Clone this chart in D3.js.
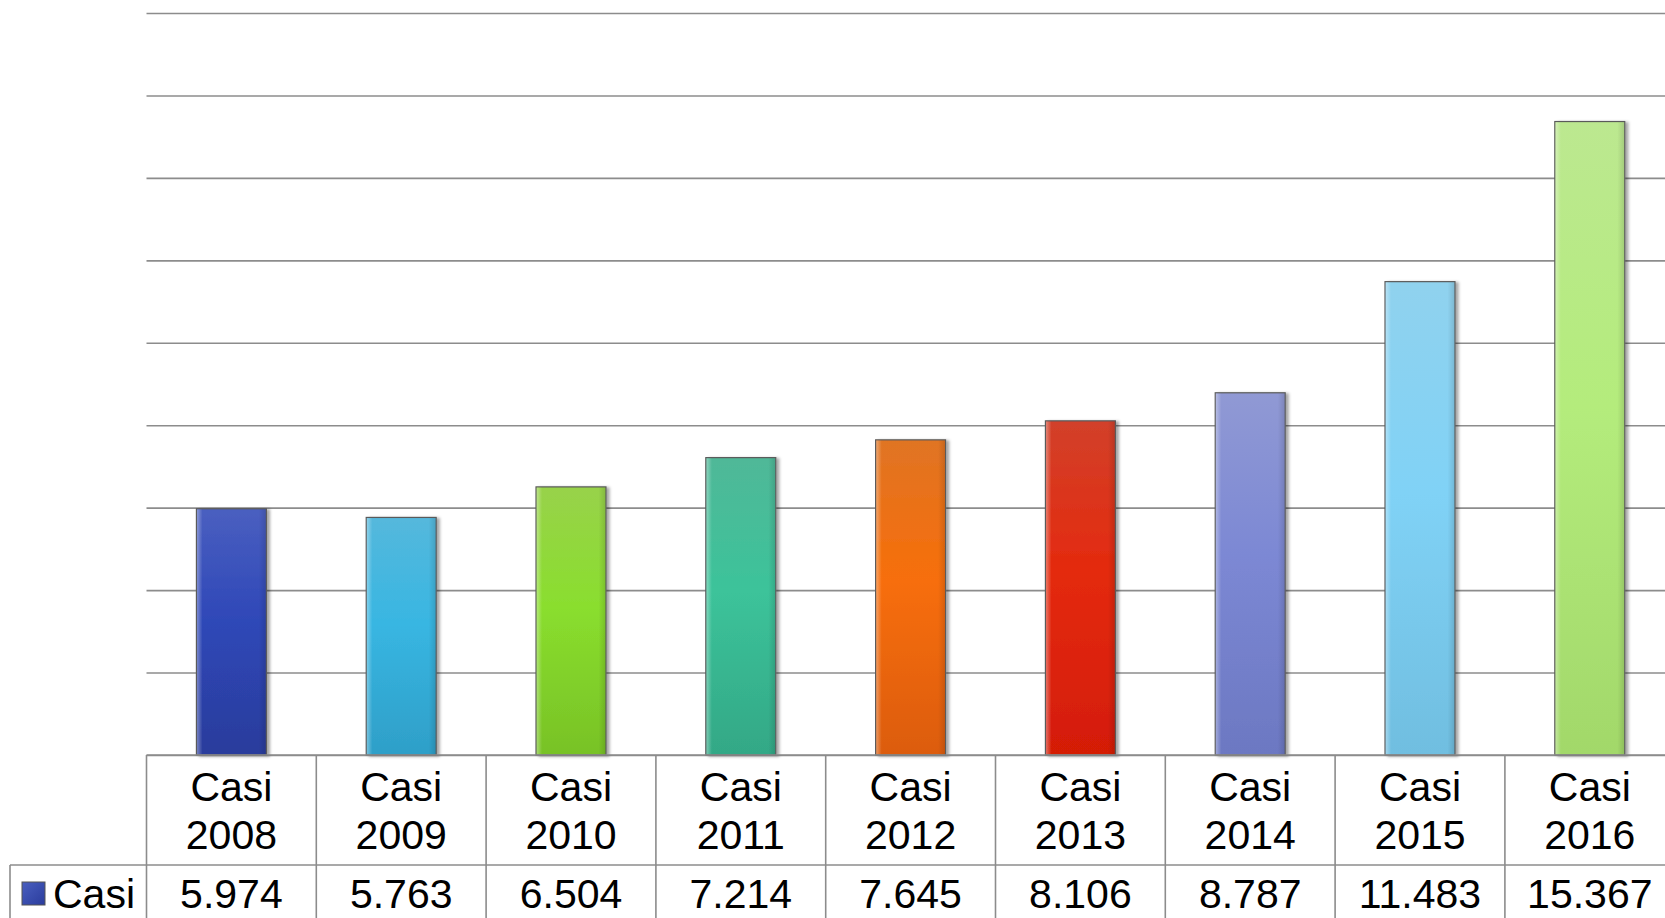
<!DOCTYPE html>
<html>
<head>
<meta charset="utf-8">
<script src="https://cdn.jsdelivr.net/npm/d3@7"></script>
<style>
  html, body { margin: 0; padding: 0; background: #ffffff; overflow: hidden; }
  svg { display: block; }
  text { font-family: "Liberation Sans", Arial, sans-serif; fill: #000; }
</style>
</head>
<body>
<svg id="chart" width="1665" height="918"></svg>
<script>
// ---- Data ----
const categories = ["Casi 2008", "Casi 2009", "Casi 2010", "Casi 2011", "Casi 2012", "Casi 2013", "Casi 2014", "Casi 2015", "Casi 2016"];
const seriesName = "Casi";
const values = [5974, 5763, 6504, 7214, 7645, 8106, 8787, 11483, 15367];
const valueLabels = ["5.974", "5.763", "6.504", "7.214", "7.645", "8.106", "8.787", "11.483", "15.367"];
const yTicks = [0, 2000, 4000, 6000, 8000, 10000, 12000, 14000, 16000, 18000];
// bar colours: [top, middle, bottom]
const barColors = [
  ["#4a5fc0", "#2f48b8", "#2a3c9c"],
  ["#55b8dc", "#38b6e2", "#2e9fc8"],
  ["#98d24a", "#8ade2e", "#78c226"],
  ["#50b898", "#3cc39a", "#33a886"],
  ["#e07424", "#f76e0a", "#dc5c08"],
  ["#d2402a", "#e42a0e", "#d41c06"],
  ["#9099d4", "#7c88d4", "#6c78c2"],
  ["#90d2ee", "#80d2f6", "#70bee0"],
  ["#bce890", "#b4ec7c", "#a2d86a"]
];

// ---- Layout ----
const W = 1665, H = 918;
const plotLeft = 146.5, colW = 169.8;
const plotRight = plotLeft + categories.length * colW;
const plotTop = 13, baseY = 755;
const headerBottom = 865;
const legendLeft = 10;
const gridColor = "#8c8c8c";

const svg = d3.select("#chart");
const defs = svg.append("defs");

const x = d3.scaleBand().domain(categories).range([plotLeft, plotRight])
  .paddingInner(0.588).paddingOuter(0.294);
const cols = d3.scaleBand().domain(categories).range([plotLeft, plotRight]).padding(0);
const y = d3.scaleLinear().domain([0, 18000]).range([baseY, plotTop]);

// shadow filter
const f = defs.append("filter").attr("id", "shadow").attr("x", "-20%").attr("y", "-5%").attr("width", "150%").attr("height", "115%");
f.append("feDropShadow").attr("dx", 3).attr("dy", 1).attr("stdDeviation", 1.8)
  .attr("flood-color", "#000").attr("flood-opacity", 0.35);

// gradients
barColors.forEach((c, i) => {
  const g = defs.append("linearGradient").attr("id", "g" + i)
    .attr("x1", 0).attr("y1", 0).attr("x2", 0).attr("y2", 1);
  g.append("stop").attr("offset", "0%").attr("stop-color", c[0]);
  g.append("stop").attr("offset", "45%").attr("stop-color", c[1]);
  g.append("stop").attr("offset", "100%").attr("stop-color", c[2]);
});
const hl = defs.append("linearGradient").attr("id", "hl").attr("x1", 0).attr("x2", 1).attr("y1", 0).attr("y2", 0);
hl.append("stop").attr("offset", "0%").attr("stop-color", "#fff").attr("stop-opacity", 0.35);
hl.append("stop").attr("offset", "8%").attr("stop-color", "#fff").attr("stop-opacity", 0.0);
hl.append("stop").attr("offset", "90%").attr("stop-color", "#000").attr("stop-opacity", 0.0);
hl.append("stop").attr("offset", "100%").attr("stop-color", "#000").attr("stop-opacity", 0.12);

// gridlines
const yAxis = d3.axisLeft(y).tickValues(yTicks).tickSize(-(plotRight - plotLeft)).tickFormat("");
const ga = svg.append("g").attr("transform", `translate(${plotLeft},0)`).call(yAxis);
ga.select(".domain").remove();
ga.selectAll(".tick line").attr("stroke", gridColor).attr("stroke-width", 1.6);

// bars
const bars = svg.append("g");
bars.selectAll("rect.bar").data(values).join("rect")
  .attr("class", "bar")
  .attr("x", (d, i) => x(categories[i]))
  .attr("y", d => y(d))
  .attr("width", x.bandwidth())
  .attr("height", d => baseY - y(d))
  .attr("fill", (d, i) => `url(#g${i})`)
  .attr("stroke", "#5a5a5a").attr("stroke-width", 1.2)
  .attr("filter", "url(#shadow)");
bars.selectAll("rect.hl").data(values).join("rect")
  .attr("class", "hl")
  .attr("x", (d, i) => x(categories[i]) + 0.6)
  .attr("y", d => y(d) + 0.6)
  .attr("width", x.bandwidth() - 1.2)
  .attr("height", d => baseY - y(d) - 1.2)
  .attr("fill", "url(#hl)");

// data table
const table = svg.append("g");
const lineAttrs = sel => sel.attr("stroke", gridColor).attr("stroke-width", 1.6);
// horizontal lines
lineAttrs(table.append("line").attr("x1", plotLeft).attr("x2", plotRight).attr("y1", baseY).attr("y2", baseY));
lineAttrs(table.append("line").attr("x1", legendLeft).attr("x2", plotRight).attr("y1", headerBottom).attr("y2", headerBottom));
// vertical lines
const vx = categories.map(c => cols(c)).concat([plotRight]);
table.selectAll("line.v").data(vx).join("line").attr("class", "v")
  .attr("x1", d => d).attr("x2", d => d).attr("y1", baseY).attr("y2", H + 5)
  .call(lineAttrs);
lineAttrs(table.append("line").attr("x1", legendLeft).attr("x2", legendLeft).attr("y1", headerBottom).attr("y2", H + 5));

const fs = 41;
// header labels
const hdr = table.selectAll("text.h").data(categories).join("text").attr("class", "h")
  .attr("text-anchor", "middle").attr("font-size", fs);
hdr.append("tspan").attr("x", c => cols(c) + cols.bandwidth() / 2).attr("y", 801)
  .text(c => c.split(" ")[0]);
hdr.append("tspan").attr("x", c => cols(c) + cols.bandwidth() / 2).attr("y", 849)
  .text(c => c.split(" ")[1]);
// values
table.selectAll("text.v").data(valueLabels).join("text").attr("class", "v")
  .attr("text-anchor", "middle").attr("font-size", fs)
  .attr("x", (d, i) => cols(categories[i]) + cols.bandwidth() / 2)
  .attr("y", 908).text(d => d);

// legend key
const lg = defs.append("linearGradient").attr("id", "lg").attr("x1", 0).attr("y1", 0).attr("x2", 1).attr("y2", 1);
lg.append("stop").attr("offset", "0%").attr("stop-color", barColors[0][0]);
lg.append("stop").attr("offset", "100%").attr("stop-color", barColors[0][2]);
table.append("rect").attr("x", 22).attr("y", 882).attr("width", 23).attr("height", 23)
  .attr("fill", "url(#lg)").attr("stroke", "#555").attr("stroke-width", 1);
table.append("text").attr("x", 53).attr("y", 908).attr("font-size", fs).text(seriesName);
</script>
</body>
</html>
